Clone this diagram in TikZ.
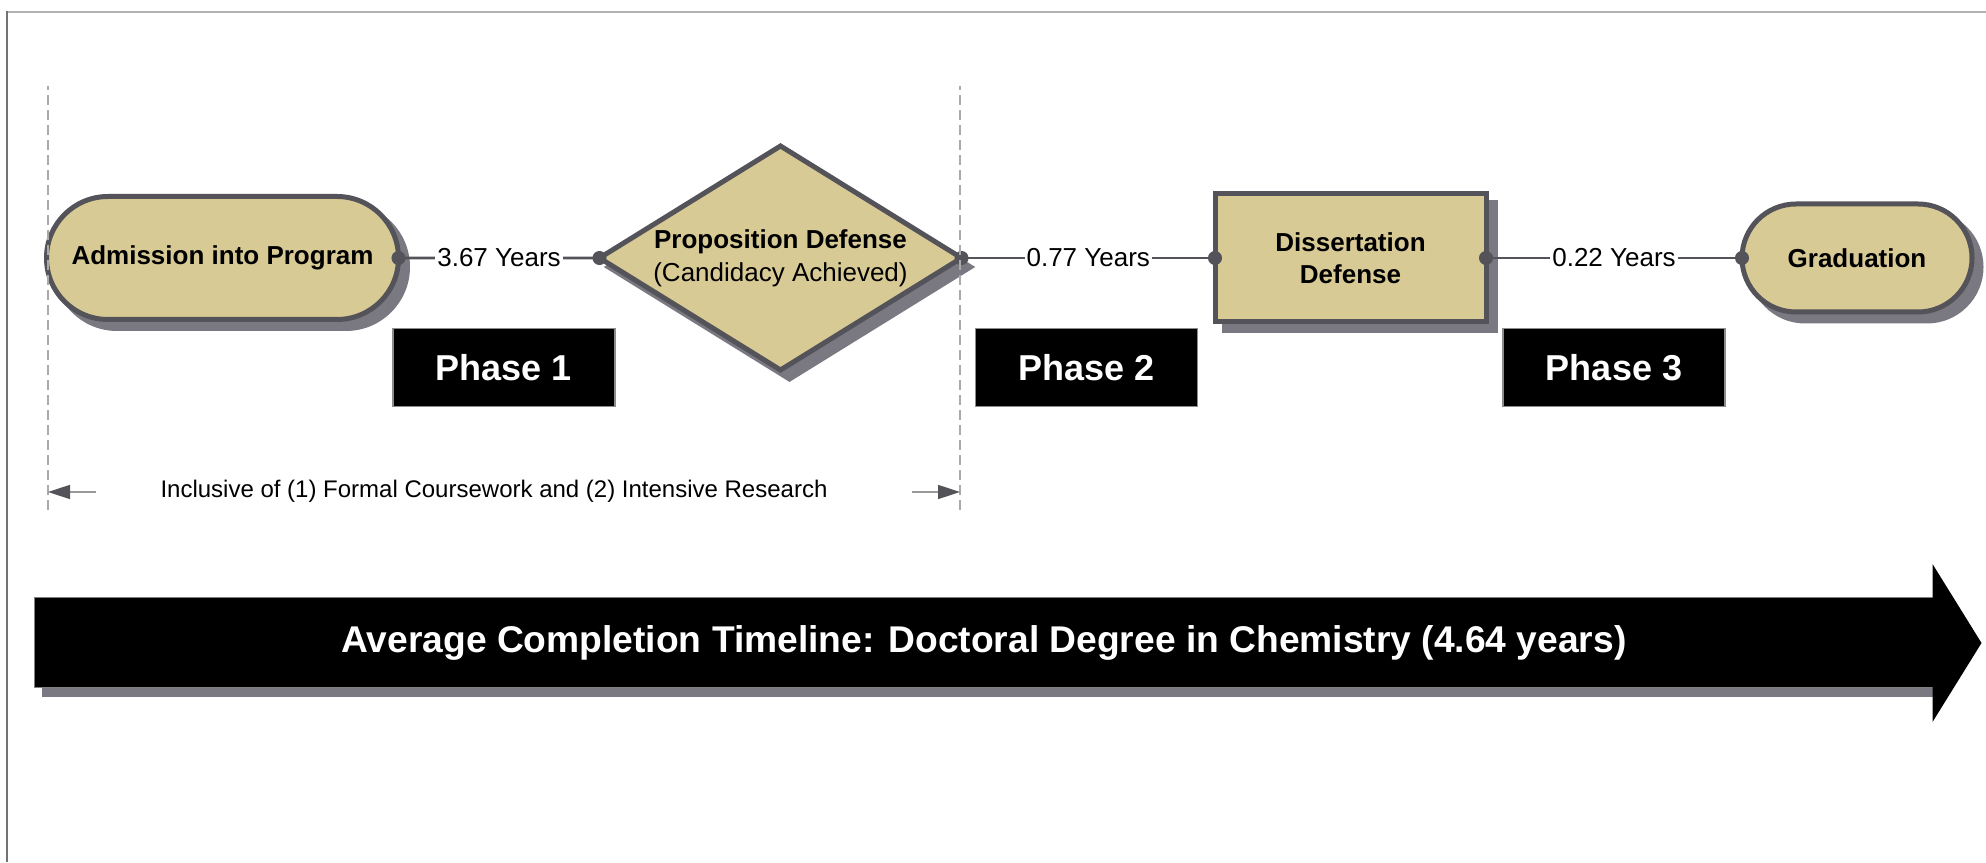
\documentclass[tikz,border=0pt]{standalone}
\usepackage{fontspec}
\setmainfont{Liberation Sans}
\usetikzlibrary{arrows.meta,positioning,shapes.geometric,shapes.misc,shadows}
\definecolor{sand}{RGB}{216,202,149}
\definecolor{outline}{RGB}{85,83,90}
\definecolor{shade}{RGB}{122,120,128}
\definecolor{guidegray}{RGB}{170,170,170}
\tikzstyle{stage}=[
	draw=outline,
	line width=2.5pt,
	fill=sand,
	outer sep=0pt,
	inner sep=0pt,
	align=center,
	font=\fontsize{13}{16}\selectfont\bfseries,
	drop shadow={shadow xshift=4.5pt,shadow yshift=-4.5pt,fill=shade,draw=shade,opacity=1}
]
\tikzstyle{terminal}=[stage, rounded rectangle]
\tikzstyle{decision}=[stage, diamond]
\tikzstyle{process}=[stage, rectangle]
\tikzstyle{span}=[
	draw=outline,
	line width=1.3pt,
	{Circle[length=7pt]}-{Circle[length=7pt]},
	shorten <=-3.5pt,
	shorten >=-3.5pt
]
\tikzstyle{years}=[
	fill=white,
	inner xsep=1pt,
	inner ysep=2pt,
	font=\fontsize{13}{16}\selectfont
]
\tikzstyle{phase}=[
	rectangle,
	fill=black,
	draw=black!45,
	line width=0.6pt,
	text=white,
	minimum width=111pt,
	minimum height=39pt,
	font=\fontsize{18}{22}\selectfont\bfseries
]
\tikzstyle{guide}=[draw=guidegray, line width=0.8pt, dash pattern=on 5pt off 2.5pt]
\tikzstyle{dimension}=[draw=black!40, line width=0.8pt]
\tikzstyle{timebar}=[
	rectangle,
	fill=black,
	draw=black!50,
	line width=0.5pt,
	minimum width=950pt,
	minimum height=45pt,
	text=white,
	font=\fontsize{18.6}{22}\selectfont\bfseries,
	drop shadow={shadow xshift=4pt,shadow yshift=-4.5pt,fill=shade,opacity=1}
]

\begin{document}
\begin{tikzpicture}[x=1pt,y=1pt]
\useasboundingbox (0,0) rectangle (993,431);
\draw [black!30, line width=1pt] (3.5,425) -- (993,425);
\draw [black!55, line width=1pt] (3.5,0) -- (3.5,425.5);

\node [terminal, minimum width=176pt, minimum height=61.5pt] (admission) at (111.25,302) {Admission into Program};
\node [decision, minimum width=181pt, minimum height=112pt,
	label={[font=\fontsize{13}{16.5}\selectfont, align=center]center:{\textbf{Proposition Defense}\\(Candidacy Achieved)}}]
	(proposition) [right=100.5pt of admission] {}
	edge [span] node [years] (gap1) {3.67 Years} (admission);
\node [process, minimum width=135.5pt, minimum height=64pt] (dissertation) [right=126.75pt of proposition] {Dissertation\\Defense}
	edge [span] node [years] (gap2) {0.77 Years} (proposition);
\node [terminal, minimum width=115pt, minimum height=54pt] (graduation) [right=128pt of dissertation] {Graduation}
	edge [span] node [years] (gap3) {0.22 Years} (dissertation);

\node [phase, xshift=2.5pt] (phase1) [below=35pt of gap1.center] {Phase 1};
\node [phase, xshift=-1pt] (phase2) [below=35pt of gap2.center] {Phase 2};
\node [phase] (phase3) [below=35pt of gap3.center] {Phase 3};

\coordinate (guideLtop) at (24,388);
\coordinate (guideLbot) at (24,176);
\coordinate (guideRtop) at (480,388);
\coordinate (guideRbot) at (480,176);
\draw [guide] (guideLbot) -- (guideLtop);
\draw [guide] (guideRbot) -- (guideRtop);
\coordinate (dimL) at (24,185);
\coordinate (dimR) at (480,185);
\draw [dimension, {Triangle[length=11pt,width=7pt,color=outline]}-] (dimL) -- ++(24,0);
\draw [dimension, {Triangle[length=11pt,width=7pt,color=outline]}-] (dimR) -- ++(-24,0);
\node [font=\fontsize{12}{14}\selectfont] (coverage) at (247,185.5) {Inclusive of (1) Formal Coursework and (2) Intensive Research};

\node [timebar] (timeline) at (492,109.5) {Average Completion Timeline: Doctoral Degree in Chemistry (4.64 years)};
\fill [black] ([xshift=-1pt]timeline.east) ++(0,39.5) -- ++(24.5,-39.5) -- ++(-24.5,-39.5) -- cycle;
\end{tikzpicture}
\end{document}
